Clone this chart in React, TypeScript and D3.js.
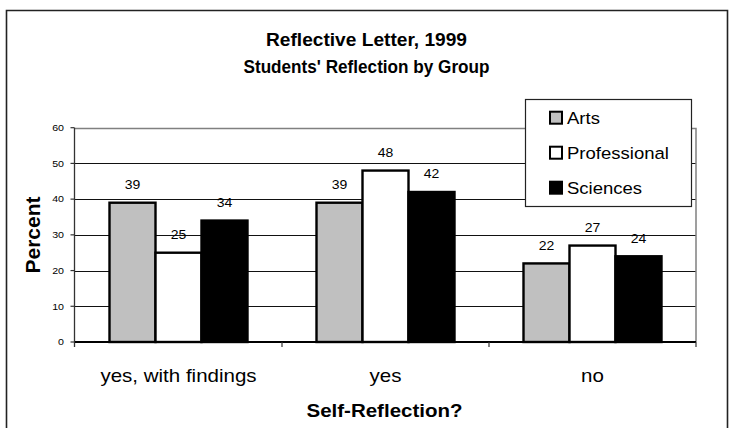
import React from "react";
import * as d3 from "d3";

const categories = ["yes, with findings", "yes", "no"];
const seriesNames = ["Arts", "Professional", "Sciences"];
const arts = [39, 39, 22];
const professional = [25, 48, 27];
const sciences = [34, 42, 24];
const yTicks = [0, 10, 20, 30, 40, 50, 60];
const titleLines = ["Reflective Letter, 1999", "Students' Reflection by Group"];
const seriesFills = ["#c0c0c0", "#ffffff", "#000000"];

const W = 733;
const H = 428;
const FONT = "'Liberation Sans', Arial, sans-serif";

const plot = { left: 75, right: 696, top: 127.7, bottom: 342 };

type TProps = {
  x: number;
  y: number;
  size: number;
  sx?: number;
  len?: number;
  bold?: boolean;
  anchor?: "start" | "middle" | "end";
  rotate?: number;
  children: React.ReactNode;
};

// Text with an optional horizontal stretch (or fixed length) around its anchor point
const T = ({ x, y, size, sx = 1, len, bold, anchor = "middle", rotate = 0, children }: TProps) => (
  <text
    transform={`translate(${x},${y}) rotate(${rotate}) scale(${sx},1)`}
    fontSize={size}
    fontWeight={bold ? "bold" : "normal"}
    textAnchor={anchor}
    fontFamily={FONT}
    fill="#000"
    {...(len ? { textLength: len, lengthAdjust: "spacingAndGlyphs" } : {})}
  >
    {children}
  </text>
);

export default function App() {
  const values = [arts, professional, sciences];

  const x0 = d3.scaleBand<string>().domain(categories).range([plot.left, plot.right]);
  const x1 = d3
    .scaleBand<string>()
    .domain(seriesNames)
    .range([0, x0.bandwidth()])
    .paddingInner(0)
    .paddingOuter(0.75);
  const y = d3.scaleLinear().domain([0, 60]).range([plot.bottom, plot.top]);

  const legend = { x: 525, y: 99, w: 166, h: 107 };
  const legendRowY = [117.7, 152.7, 187.7];
  const titleWidths = [201, 246];

  return (
    <svg
      width={W}
      height={H}
      style={{ position: "absolute", left: 0, top: 0, background: "#fff" }}
    >
      {/* outer chart frame (open at the bottom) */}
      <path
        d={`M6.5,${H} V10.5 H727.5 V${H}`}
        fill="none"
        stroke="#222"
        strokeWidth={1.6}
      />

      {/* title */}
      {titleLines.map((t, i) => (
        <T key={t} x={366.5} y={46 + i * 27} size={18} len={titleWidths[i]} bold>
          {t}
        </T>
      ))}

      {/* gridlines */}
      {yTicks
        .filter((t) => t > 0 && t < 60)
        .map((t) => (
          <line
            key={t}
            x1={plot.left}
            x2={plot.right}
            y1={Math.round(y(t)) + 0.5}
            y2={Math.round(y(t)) + 0.5}
            stroke="#111"
            strokeWidth={1}
          />
        ))}
      {/* plot-area border top and right */}
      <path
        d={`M${plot.left},${Math.round(y(60)) + 0.5} H${plot.right} V${plot.bottom}`}
        fill="none"
        stroke="#808080"
        strokeWidth={1.5}
      />

      {/* bars */}
      {categories.map((c, ci) =>
        seriesNames.map((s, si) => {
          const v = values[si][ci];
          const bx = (x0(c) ?? 0) + (x1(s) ?? 0);
          return (
            <rect
              key={c + s}
              x={bx}
              y={y(v)}
              width={x1.bandwidth()}
              height={y(0) - y(v)}
              fill={seriesFills[si]}
              stroke="#000"
              strokeWidth={2.4}
            />
          );
        })
      )}

      {/* value labels */}
      {categories.map((c, ci) =>
        seriesNames.map((s, si) => {
          const v = values[si][ci];
          const cx = (x0(c) ?? 0) + (x1(s) ?? 0) + x1.bandwidth() / 2;
          return (
            <T key={"l" + c + s} x={cx} y={y(v) - 13.5} size={12.5} sx={1.12}>
              {v}
            </T>
          );
        })
      )}

      {/* y axis */}
      <line x1={74.5} x2={74.5} y1={plot.top} y2={plot.bottom + 5} stroke="#333" strokeWidth={1.3} />
      {yTicks.map((t) => (
        <g key={"yt" + t}>
          <line x1={70.5} x2={74.5} y1={y(t)} y2={y(t)} stroke="#333" strokeWidth={1.2} />
          <T x={64} y={y(t) + 3.3} size={9.5} sx={1.12} anchor="end">
            {t}
          </T>
        </g>
      ))}
      <T x={40} y={235} size={21} bold rotate={-90}>
        Percent
      </T>

      {/* x axis */}
      <line x1={plot.left} x2={plot.right} y1={plot.bottom} y2={plot.bottom} stroke="#000" strokeWidth={2} />
      {categories.map((c) => (
        <line
          key={"xt" + c}
          x1={(x0(c) ?? 0) + x0.bandwidth()}
          x2={(x0(c) ?? 0) + x0.bandwidth()}
          y1={plot.bottom}
          y2={plot.bottom + 5}
          stroke="#333"
          strokeWidth={1.2}
        />
      ))}
      {categories.map((c) => (
        <T key={"xl" + c} x={(x0(c) ?? 0) + x0.bandwidth() / 2} y={382} size={18} sx={1.14}>
          {c}
        </T>
      ))}
      <T x={384.5} y={417} size={19} sx={1.08} bold>
        Self-Reflection?
      </T>

      {/* legend */}
      <rect
        x={legend.x + 0.5}
        y={legend.y + 0.5}
        width={legend.w}
        height={legend.h}
        fill="#fff"
        stroke="#222"
        strokeWidth={1.2}
      />
      {seriesNames.map((s, i) => (
        <g key={"lg" + s}>
          <rect
            x={550}
            y={legendRowY[i] - 6}
            width={12}
            height={12}
            fill={seriesFills[i]}
            stroke="#000"
            strokeWidth={2}
          />
          <T x={567} y={legendRowY[i] + 6} size={17} sx={1.09} anchor="start">
            {s}
          </T>
        </g>
      ))}
    </svg>
  );
}
